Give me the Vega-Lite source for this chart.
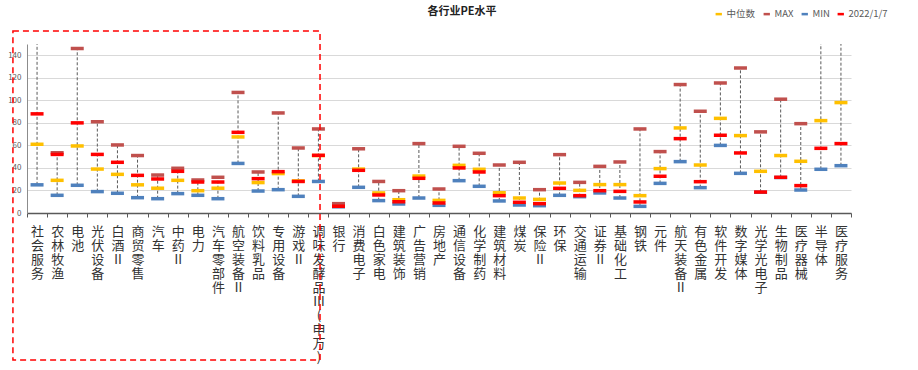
{
  "$schema": "https://vega.github.io/schema/vega-lite/v6.json",
  "autosize": {"type": "none"},
  "padding": {"left": 27, "top": 44, "right": 67, "bottom": 157},
  "width": 824,
  "height": 169,
  "background": "white",
  "title": {"text": "各行业PE水平", "fontSize": 11, "fontWeight": "bold", "font": "Noto Sans CJK SC", "color": "#222222", "anchor": "middle", "dx": 23, "offset": -8},
  "config": {"view": {"stroke": null}, "font": "Noto Sans CJK SC", "axis": {"labelOverlap": false}, "axisY": {"labelOverlap": false, "tickCount": 8}},
  "data": {"values": [
    {"c": "社会服务", "med": 61, "max": 200, "min": 25, "cur": 88},
    {"c": "农林牧渔", "med": 29, "max": 53.5, "min": 15.7, "cur": 52},
    {"c": "电池", "med": 59.5, "max": 146, "min": 24.6, "cur": 80},
    {"c": "光伏设备", "med": 39, "max": 81, "min": 19, "cur": 52},
    {"c": "白酒Ⅱ", "med": 34.3, "max": 60.4, "min": 17.5, "cur": 45},
    {"c": "商贸零售", "med": 25, "max": 51, "min": 13.6, "cur": 33.4},
    {"c": "汽车", "med": 22, "max": 33.7, "min": 12.7, "cur": 30.2},
    {"c": "中药Ⅱ", "med": 29, "max": 39.7, "min": 17.2, "cur": 37},
    {"c": "电力", "med": 19.8, "max": 29.3, "min": 15.7, "cur": 27.5},
    {"c": "汽车零部件", "med": 22, "max": 31.7, "min": 12.7, "cur": 27.5},
    {"c": "航空装备Ⅱ", "med": 67.5, "max": 107, "min": 44, "cur": 71.6},
    {"c": "饮料乳品", "med": 27, "max": 36.4, "min": 19.5, "cur": 30.5},
    {"c": "专用设备", "med": 35, "max": 88.8, "min": 20.7, "cur": 36.7},
    {"c": "游戏Ⅱ", "med": 28.5, "max": 57.7, "min": 14.8, "cur": 28},
    {"c": "调味发酵品Ⅲ(申万)", "med": 51, "max": 74.6, "min": 28, "cur": 51.2},
    {"c": "银行", "med": 6.5, "max": 8.3, "min": 5.5, "cur": 6},
    {"c": "消费电子", "med": 39, "max": 57, "min": 22.8, "cur": 37.9},
    {"c": "白色家电", "med": 17.8, "max": 28, "min": 11, "cur": 16},
    {"c": "建筑装饰", "med": 11.8, "max": 19.8, "min": 8, "cur": 10},
    {"c": "广告营销", "med": 32.8, "max": 61.6, "min": 13.3, "cur": 30.8},
    {"c": "房地产", "med": 11.2, "max": 21.3, "min": 6.8, "cur": 8.9},
    {"c": "通信设备", "med": 42.3, "max": 59.2, "min": 28.7, "cur": 40},
    {"c": "化学制药", "med": 38.8, "max": 53, "min": 23.7, "cur": 36.4},
    {"c": "建筑材料", "med": 18, "max": 42.6, "min": 10.7, "cur": 15.4},
    {"c": "煤炭", "med": 13.3, "max": 45, "min": 7.1, "cur": 9.5},
    {"c": "保险Ⅱ", "med": 12.1, "max": 20.7, "min": 6.5, "cur": 8.3},
    {"c": "环保", "med": 26.6, "max": 51.8, "min": 15.7, "cur": 21.9},
    {"c": "交通运输", "med": 20.1, "max": 27.2, "min": 14.5, "cur": 15.4},
    {"c": "证券Ⅱ", "med": 25.2, "max": 41.4, "min": 17.8, "cur": 19.8},
    {"c": "基础化工", "med": 25.2, "max": 45.3, "min": 13.3, "cur": 19.2},
    {"c": "钢铁", "med": 15.4, "max": 74.6, "min": 5.9, "cur": 9.8},
    {"c": "元件", "med": 39.4, "max": 54.5, "min": 26.3, "cur": 32.6},
    {"c": "航天装备Ⅱ", "med": 75.5, "max": 114, "min": 45.6, "cur": 66},
    {"c": "有色金属", "med": 42.6, "max": 90.3, "min": 22.5, "cur": 27.8},
    {"c": "软件开发", "med": 84, "max": 115.4, "min": 60, "cur": 69},
    {"c": "数字媒体", "med": 68.7, "max": 128.7, "min": 35.2, "cur": 53.3},
    {"c": "光学光电子", "med": 37, "max": 72, "min": 18.4, "cur": 18.6},
    {"c": "生物制品", "med": 51, "max": 101, "min": 31.5, "cur": 31.7},
    {"c": "医疗器械", "med": 45.9, "max": 79.3, "min": 20.4, "cur": 24.3},
    {"c": "半导体", "med": 82, "max": 200, "min": 38.8, "cur": 57.4},
    {"c": "医疗服务", "med": 98, "max": 200, "min": 42, "cur": 61.6}
  ]},
  "layer": [
    {
      "layer": [
        {
          "mark": {"type": "rule", "strokeDash": [3, 2], "color": "#595959", "strokeWidth": 1, "clip": true},
          "encoding": {
            "x": {"field": "c", "type": "nominal", "sort": null, "scale": {"paddingInner": 0, "paddingOuter": 0},
              "axis": {"title": null, "labelAngle": 0, "labelExpr": "split(datum.label, '')", "labelFontSize": 13, "labelLineHeight": 14, "labelColor": "#333333", "labelBaseline": "top", "labelPadding": 8, "labelOverlap": false, "labelLimit": 0, "tickBand": "extent", "tickSize": 4, "tickColor": "#595959", "domainColor": "#595959", "domainWidth": 1.5, "grid": false}},
            "y": {"field": "min", "type": "quantitative", "scale": {"domain": [0, 150], "nice": false},
              "axis": {"title": null, "values": [0, 20, 40, 60, 80, 100, 120, 140], "labelFontSize": 8, "labelColor": "#595959", "labelOverlap": false, "ticks": false, "labelPadding": 6, "domainColor": "#8c8c8c", "gridColor": "#d9d9d9", "gridWidth": 1}},
            "y2": {"field": "max"}
          }
        },
        {
          "transform": [{"fold": ["med", "max", "min", "cur"], "as": ["k", "v"]},
            {"calculate": "datum.k == 'med' ? '中位数' : datum.k == 'max' ? 'MAX' : datum.k == 'min' ? 'MIN' : '2022/1/7'", "as": "series"}],
          "mark": {"type": "tick", "size": 13, "thickness": 3.5, "clip": true, "opacity": 1},
          "encoding": {
            "x": {"field": "c", "type": "nominal", "sort": null},
            "y": {"field": "v", "type": "quantitative", "axis": {"title": null, "values": [0, 20, 40, 60, 80, 100, 120, 140], "labelOverlap": false}},
            "color": {"field": "series", "type": "nominal",
              "scale": {"domain": ["中位数", "MAX", "MIN", "2022/1/7"], "range": ["#FFC000", "#C0504D", "#4F81BD", "#FF0000"]},
              "legend": {"title": null, "orient": "none", "legendX": 687, "legendY": -35, "direction": "horizontal", "symbolType": "M-1,-0.4H1V0.4H-1Z", "symbolSize": 40, "symbolOpacity": 1, "labelFontSize": 9.5, "labelColor": "#595959", "labelOffset": 3, "columnPadding": 6}}
          }
        }
      ]
    },
    {
      "data": {"values": [{"a": -0.7, "b": 14.58, "lo": -130.5, "hi": 161.5}]},
      "mark": {"type": "rect", "filled": false, "stroke": "#FF0000", "strokeWidth": 1.5, "strokeDash": [6, 4], "clip": false},
      "encoding": {
        "x": {"field": "a", "type": "quantitative", "scale": {"domain": [0, 41], "nice": false, "zero": false}, "axis": null},
        "x2": {"field": "b"},
        "y": {"field": "lo", "type": "quantitative", "scale": {"domain": [0, 150], "nice": false, "zero": false}, "axis": null},
        "y2": {"field": "hi"}
      }
    }
  ],
  "resolve": {"scale": {"x": "independent", "y": "independent"}}
}
